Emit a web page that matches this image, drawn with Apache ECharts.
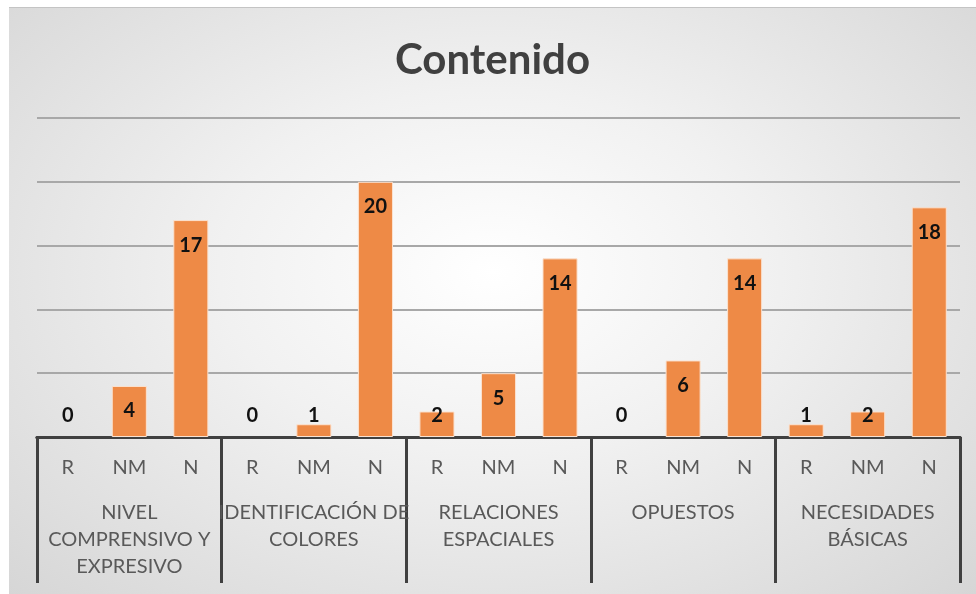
<!DOCTYPE html>
<html>
<head>
<meta charset="utf-8">
<script src="https://cdn.jsdelivr.net/npm/echarts@6/dist/echarts.min.js"></script>
<style>
  html, body { margin: 0; padding: 0; background: #ffffff; }
  #frame {
    position: absolute; left: 9px; top: 7px; width: 967px; height: 587px;
    background: radial-gradient(ellipse at 50% 45%, #ffffff 0%, #f1f1f1 40%, #d6d6d6 100%);
    border-top: 1px solid #c4c4c4;
    box-sizing: border-box;
  }
  #chart { width: 100%; height: 100%; }
</style>
</head>
<body>
<div id="frame"><div id="chart"></div></div>
<script>
// grupos (nivel superior del eje) y subcategorías
const groups = ['NIVEL\nCOMPRENSIVO Y\nEXPRESIVO', 'IDENTIFICACIÓN DE\nCOLORES', 'RELACIONES\nESPACIALES', 'OPUESTOS', 'NECESIDADES\nBÁSICAS']
const levels = ['R', 'NM', 'N']
const nivelValues = [0, 4, 17]
const identValues = [0, 1, 20]
const relacionesValues = [2, 5, 14]
const opuestosValues = [0, 6, 14]
const necesidadesValues = [1, 2, 18]

const subCategories = []
groups.forEach(() => levels.forEach(l => subCategories.push(l)))
const values = [].concat(nivelValues, identValues, relacionesValues, opuestosValues, necesidadesValues)

const font = 'Lato, "Open Sans", sans-serif'
const axisDark = '#404040'

const chart = echarts.init(document.getElementById('chart'))

const option = {
  backgroundColor: 'transparent',
  animation: false,
  title: {
    text: 'Contenido',
    left: 'center',
    top: 26,
    textStyle: { fontFamily: font, fontSize: 42, fontWeight: 'bold', color: '#404040' }
  },
  grid: { left: 28, right: 16, top: 110, bottom: 157, containLabel: false },
  xAxis: [
    {
      type: 'category',
      data: subCategories,
      position: 'bottom',
      axisLine: { show: true, lineStyle: { color: axisDark, width: 3 } },
      axisTick: { show: false },
      axisLabel: { interval: 0, margin: 21, fontFamily: font, fontSize: 20, color: '#595959' }
    },
    {
      type: 'category',
      data: groups,
      position: 'bottom',
      offset: 0,
      axisLine: { show: true, lineStyle: { color: axisDark, width: 3 } },
      axisTick: { show: true, interval: 0, length: 146, lineStyle: { color: axisDark, width: 3 } },
      axisLabel: { interval: 0, margin: 62, fontFamily: font, fontSize: 20, lineHeight: 27, color: '#595959' }
    }
  ],
  yAxis: {
    type: 'value',
    min: 0,
    max: 25,
    interval: 5,
    axisLine: { show: false },
    axisTick: { show: false },
    axisLabel: { show: false },
    splitLine: { lineStyle: { color: '#a8a8a8', width: 2 } }
  },
  series: [
    {
      type: 'bar',
      xAxisIndex: 0,
      barWidth: '57%',
      itemStyle: { color: '#ee8a46', borderColor: '#fbe2d0', borderWidth: 1 },
      label: {
        show: true,
        position: 'insideTop',
        distance: 15,
        fontFamily: font,
        fontSize: 20,
        fontWeight: 'bold',
        color: '#111111'
      },
      data: values.map(v => v <= 2
        ? {
            value: v,
            itemStyle: v === 0 ? { borderWidth: 0 } : undefined,
            label: { position: 'insideBottom', distance: 11 }
          }
        : v)
    }
  ]
}

chart.setOption(option)
</script>
</body>
</html>
